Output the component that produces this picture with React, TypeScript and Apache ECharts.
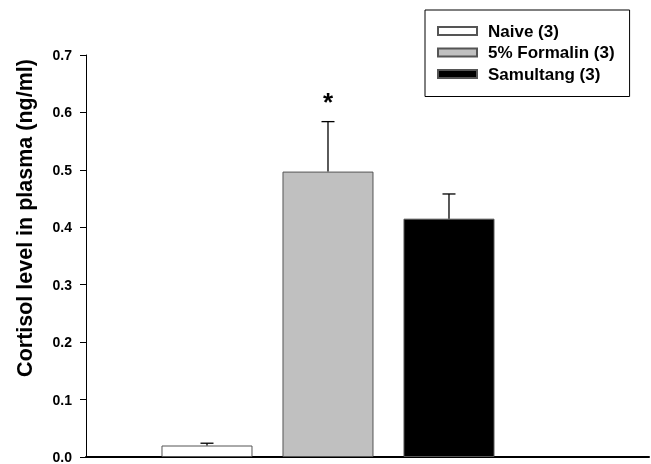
import React, { useEffect, useRef } from "react";
import * as echarts from "echarts";

const groups = ["Naive (3)", "5% Formalin (3)", "Samultang (3)"];
const positions = [1, 2, 3];
const means = [0.02, 0.497, 0.415];
const sems = [0.004, 0.087, 0.043];
const marks = ["", "*", ""];
const fills = ["#ffffff", "#c0c0c0", "#000000"];
const yMin = 0;
const yMax = 0.7;
const yStep = 0.1;
const xMax = 4.653;
const yTitle = "Cortisol level in plasma (ng/ml)";

const FONT = "Arial, 'Liberation Sans', sans-serif";

export default function App() {
  const ref = useRef<HTMLDivElement>(null);
  useEffect(() => {
    if (!ref.current) return;
    const chart = echarts.init(ref.current, undefined, { renderer: "svg" });
    const barSeries = groups.map((g, i) => ({
      name: g,
      type: "bar",
      barWidth: 91,
      barGap: "-100%",
      data: [[positions[i], means[i]]],
      itemStyle: { color: fills[i], borderColor: "#555", borderWidth: 1 },
      z: 2,
    }));
    const errData = groups.map((_, i) => [positions[i], means[i], sems[i]]);
    chart.setOption({
      animation: false,
      grid: { left: 86, right: 2, top: 55, bottom: 7 },
      xAxis: {
        type: "value",
        min: 0,
        max: xMax,
        axisLine: { show: true, onZero: false, lineStyle: { color: "#000", width: 2 } },
        axisTick: { show: false },
        axisLabel: { show: false },
        splitLine: { show: false },
      },
      yAxis: {
        type: "value",
        min: yMin,
        max: yMax,
        interval: yStep,
        axisLine: { show: true, lineStyle: { color: "#000", width: 1 } },
        axisTick: { show: true, length: 6, lineStyle: { color: "#000" } },
        axisLabel: {
          margin: 14,
          color: "#000",
          fontFamily: FONT,
          fontWeight: "bold",
          fontSize: 14,
          formatter: (v: number) => v.toFixed(1),
        },
        splitLine: { show: false },
      },
      legend: {
        data: groups,
        orient: "vertical",
        left: 425,
        top: 10,
        itemWidth: 39,
        itemHeight: 8,
        itemGap: 4.5,
        padding: [12.5, 15, 14, 12],
        borderColor: "#000",
        borderWidth: 1,
        selectedMode: false,
        icon: "rect",
        textStyle: {
          color: "#000",
          fontFamily: FONT,
          fontWeight: "bold",
          fontSize: 17,
          padding: [0, 0, 0, 6],
        },
      },
      graphic: [
        {
          type: "text",
          x: 25,
          y: 218,
          rotation: Math.PI / 2,
          style: {
            text: yTitle,
            font: `bold 21.5px ${FONT}`,
            fill: "#000",
            textAlign: "center",
            textVerticalAlign: "middle",
          },
        },
      ],
      series: [
        ...barSeries,
        {
          type: "custom",
          name: "err",
          z: 5,
          data: errData,
          renderItem: (params: any, api: any) => {
            const x = api.value(0);
            const m = api.value(1);
            const e = api.value(2);
            const base = api.coord([x, m]);
            const top = api.coord([x, m + e]);
            const half = 6.5;
            const style = { stroke: "#000", lineWidth: 1.3 };
            const children: any[] = [
              { type: "line", shape: { x1: base[0], y1: base[1], x2: top[0], y2: top[1] }, style },
              { type: "line", shape: { x1: top[0] - half, y1: top[1], x2: top[0] + half, y2: top[1] }, style },
            ];
            const mk = marks[params.dataIndex];
            if (mk) {
              children.push({
                type: "text",
                x: top[0],
                y: top[1] - 20,
                style: {
                  text: mk,
                  font: `bold 26px ${FONT}`,
                  fill: "#000",
                  textAlign: "center",
                  textVerticalAlign: "middle",
                },
              });
            }
            return { type: "group", children };
          },
        },
      ],
    });
    return () => chart.dispose();
  }, []);
  return <div ref={ref} style={{ position: "fixed", left: 0, top: 0, width: 651, height: 464 }} />;
}
